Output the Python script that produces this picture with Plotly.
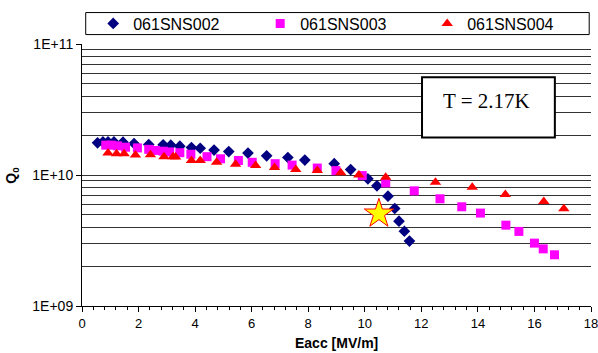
import plotly.graph_objects as go

# ---- data ----
s002_x = [0.55, 0.74, 0.92, 1.13, 1.45, 1.84, 2.36, 2.87, 3.14, 3.46, 3.87, 4.18, 4.67, 5.19, 5.87,
          6.53, 7.28, 7.88, 8.92, 9.50, 10.11, 10.43, 10.82, 11.06, 11.21, 11.40, 11.58]
s002_y = [1.76e10, 1.79e10, 1.79e10, 1.79e10, 1.78e10, 1.74e10, 1.71e10, 1.70e10, 1.69e10, 1.66e10,
          1.62e10, 1.60e10, 1.55e10, 1.51e10, 1.47e10, 1.40e10, 1.36e10, 1.30e10, 1.22e10, 1.10e10,
          9.35e9, 8.27e9, 6.89e9, 5.55e9, 4.44e9, 3.72e9, 3.13e9]

s003_x = [0.84, 1.04, 1.25, 1.54, 1.96, 2.36, 2.60, 2.87, 3.10, 3.46, 3.85, 4.42, 4.90, 5.53, 6.02,
          6.83, 7.43, 8.32, 8.98, 9.91, 10.74, 11.75, 12.66, 13.43, 14.09, 14.99, 15.45, 16.00,
          16.31, 16.71]
s003_y = [1.69e10, 1.69e10, 1.67e10, 1.63e10, 1.61e10, 1.57e10, 1.54e10, 1.52e10, 1.50e10, 1.48e10,
          1.44e10, 1.38e10, 1.33e10, 1.29e10, 1.25e10, 1.22e10, 1.19e10, 1.13e10, 1.08e10, 9.9e9,
          8.7e9, 7.57e9, 6.58e9, 5.72e9, 5.12e9, 4.14e9, 3.71e9, 3.02e9, 2.73e9, 2.46e9]

s004_x = [0.92, 1.22, 1.49, 1.89, 2.42, 2.90, 3.22, 3.31, 3.87, 4.18, 4.76, 5.43, 6.14, 6.81, 7.56,
          8.32, 9.15, 9.79, 10.74, 12.50, 13.80, 14.97, 16.33, 17.04]
s004_y = [1.47e10, 1.45e10, 1.45e10, 1.42e10, 1.43e10, 1.38e10, 1.38e10, 1.37e10, 1.29e10, 1.29e10,
          1.25e10, 1.21e10, 1.18e10, 1.14e10, 1.10e10, 1.08e10, 1.04e10, 1.00e10, 9.62e9, 8.81e9,
          8.07e9, 7.10e9, 6.28e9, 5.52e9]

star_x = [10.5]
star_y = [5.06e9]

names = ["061SNS002", "061SNS003", "061SNS004"]
y_major = [1e9, 1e10, 1e11]
y_major_text = ["1E+09", "1E+10", "1E+11"]
y_minor = [k * 1e9 for k in range(2, 10)] + [k * 1e10 for k in range(2, 10)]
x_ticks = list(range(0, 19, 2))
x_ticktext = [str(v) for v in x_ticks]

fig = go.Figure()
fig.add_trace(go.Scatter(x=s002_x, y=s002_y, mode="markers", name=names[0],
                         marker=dict(symbol="diamond", size=9, color="#000080")))
fig.add_trace(go.Scatter(x=s003_x, y=s003_y, mode="markers", name=names[1],
                         marker=dict(symbol="square", size=9, color="#FF00FF")))
fig.add_trace(go.Scatter(x=s004_x, y=s004_y, mode="markers", name=names[2],
                         marker=dict(symbol="triangle-up", size=10, color="#FF0000")))
fig.add_trace(go.Scatter(x=star_x, y=star_y, mode="markers", showlegend=False,
                         marker=dict(symbol="star", size=22, color="#FFFF00",
                                     line=dict(color="#FF0000", width=1))))

grid = "#333333"
fig.update_layout(
    width=598, height=353,
    margin=dict(l=82, r=7, t=44, b=47, autoexpand=False),
    paper_bgcolor="white", plot_bgcolor="white",
    font=dict(family="Liberation Sans, Arial, sans-serif", color="black", size=13),
    showlegend=True,
    legend=dict(orientation="h", x=0.022, y=1.078, xanchor="left", yanchor="middle",
                bgcolor="rgba(0,0,0,0)", borderwidth=0, entrywidth=122,
                font=dict(size=16), itemwidth=30),
    xaxis=dict(range=[0, 18], tickvals=x_ticks, ticktext=x_ticktext, ticks="outside", ticklen=5,
               tickcolor="black", showline=True, linecolor="black", linewidth=1,
               showgrid=False, zeroline=False, tickfont=dict(size=13),
               ticklabeloverflow="allow",
               minor=dict(dtick=0.4, ticks="outside", ticklen=3, tickcolor="black")),
    yaxis=dict(type="log", range=[9, 11], tickvals=y_major, ticktext=y_major_text,
               ticks="outside", ticklen=5, tickcolor="black", showline=True,
               linecolor="black", linewidth=1, showgrid=True, gridcolor=grid, gridwidth=1,
               zeroline=False, tickfont=dict(size=14),
               minor=dict(tickvals=y_minor, showgrid=True, gridcolor=grid, gridwidth=1, ticks="")),
    shapes=[
        dict(type="rect", xref="paper", yref="paper", x0=0.0073, x1=0.9965, y0=1.036, y1=1.120,
             line=dict(color="black", width=1), fillcolor="rgba(0,0,0,0)", layer="above"),
        dict(type="rect", xref="paper", yref="paper", x0=0.668, x1=0.929, y0=0.643, y1=0.873,
             line=dict(color="black", width=2), fillcolor="white", layer="above"),
    ],
    annotations=[
        dict(text="T = 2.17K", xref="paper", yref="paper", x=0.795, y=0.781,
             showarrow=False, xanchor="center", yanchor="middle",
             font=dict(family="Liberation Serif, Times New Roman, serif", size=21)),
        dict(text="<b>Q<sub>0</sub></b>", xref="paper", yref="paper", x=-0.138, y=0.5,
             textangle=-90, showarrow=False, xanchor="center", yanchor="middle",
             font=dict(size=14)),
        dict(text="<b>Eacc [MV/m]</b>", xref="paper", yref="paper", x=0.5, y=-0.143,
             showarrow=False, xanchor="center", yanchor="middle", font=dict(size=14)),
    ],
)

fig.write_html("out.html")
